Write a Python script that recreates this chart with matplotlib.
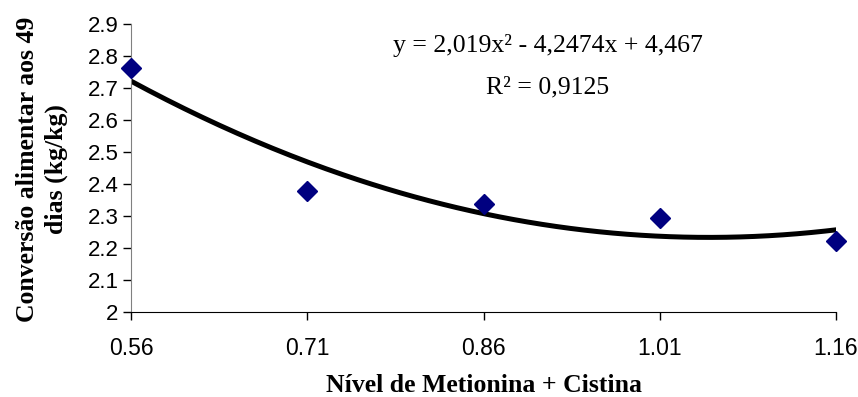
import numpy as np
import matplotlib
matplotlib.use('Agg')
import matplotlib.pyplot as plt

# nivel de met + cis vs conversao alimentar aos 49 dias
nivel = [0.56, 0.71, 0.86, 1.01, 1.16]
conversao = [2.763, 2.378, 2.337, 2.294, 2.222]

# ajuste polinomial de 2a ordem (coeficientes da equacao)
coef = [2.019, -4.2474, 4.467]
r2 = 0.9125

xticks = [0.56, 0.71, 0.86, 1.01, 1.16]
yticks = [2, 2.1, 2.2, 2.3, 2.4, 2.5, 2.6, 2.7, 2.8, 2.9]

fig = plt.figure(figsize=(8.58, 3.97), dpi=100)
ax = fig.add_axes([0.1527, 0.2141, 0.8217, 0.7254])

xs = np.linspace(nivel[0], nivel[-1], 200)
ax.plot(xs, np.polyval(coef, xs), color='black', lw=3.6, zorder=2)
ax.plot(nivel, conversao, 'D', color='#000080', ms=10, mec='#000080', zorder=3, clip_on=False)

ax.set_xlim(0.56, 1.16)
ax.set_ylim(2, 2.9)
ax.set_xticks(xticks)
ax.set_xticklabels(['%.2f' % v for v in xticks])
ax.set_yticks(yticks)
ax.set_yticklabels(['%g' % v for v in yticks])

for s in ['top', 'right']:
    ax.spines[s].set_visible(False)
ax.spines['left'].set_color('#808080')
ax.spines['bottom'].set_color('black')

ax.tick_params(axis='x', direction='out', length=6, width=1, pad=12)
ax.tick_params(axis='y', direction='out', length=6, width=1, pad=3)
for lab in ax.get_xticklabels():
    lab.set_fontfamily('Liberation Sans')
    lab.set_fontsize(16.5)
for lab in ax.get_yticklabels():
    lab.set_fontfamily('Liberation Sans')
    lab.set_fontsize(16)

eq = 'y = %s' % '2,019x² - 4,2474x + 4,467'
ax.text(0.5915, 0.927, eq, transform=ax.transAxes, ha='center', va='center',
        family='Liberation Serif', fontsize=18.5)
ax.text(0.5915, 0.781, 'R² = ' + ('%.4f' % r2).replace('.', ','), transform=ax.transAxes,
        ha='center', va='center', family='Liberation Serif', fontsize=18.5)

fig.text(484 / 858, 1 - 386 / 397, 'Nível de Metionina + Cistina', ha='center', va='center',
         family='Liberation Serif', fontweight='bold', fontsize=18.5)
fig.text(42 / 858, 1 - 169 / 397, 'Conversão alimentar aos 49\ndias (kg/kg)', rotation=90,
         ha='center', va='center', multialignment='center', linespacing=1.35,
         family='Liberation Serif', fontweight='bold', fontsize=18.5)

fig.savefig('out.png', dpi=100)
